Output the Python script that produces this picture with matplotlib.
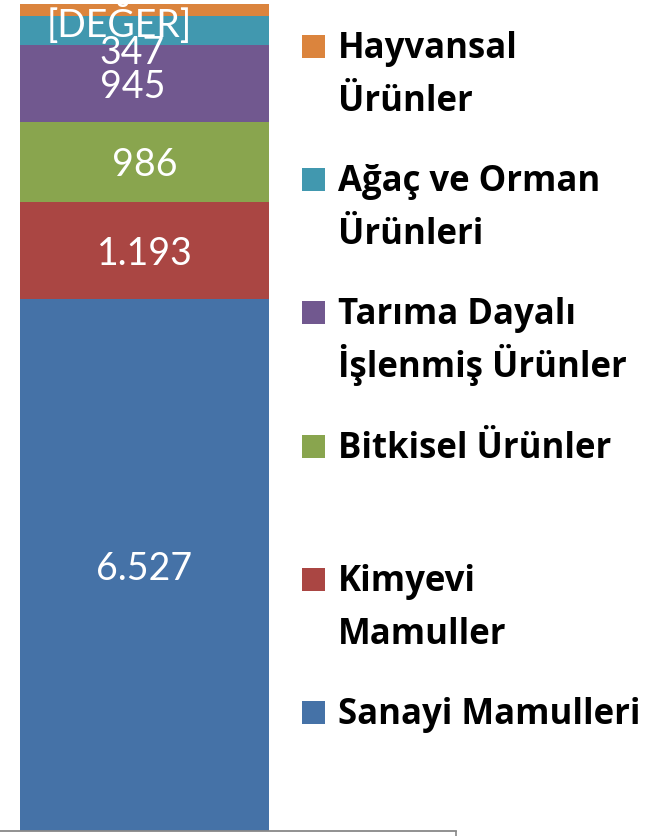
import matplotlib.pyplot as plt
from matplotlib.patches import Rectangle

# Veri (alttan üste yığılma sırası)
categories = ['Sanayi Mamulleri', 'Kimyevi\nMamuller', 'Bitkisel Ürünler',
              'Tarıma Dayalı\nİşlenmiş Ürünler', 'Ağaç ve Orman\nÜrünleri',
              'Hayvansal\nÜrünler']
values = [6527, 1193, 986, 945, 347, 150]
labels = ['6.527', '1.193', '986', '945', '347', '[DEĞER]']
colors = ['#4572A7', '#AA4643', '#89A54E', '#71588F', '#4198AF', '#DB843D']

W, H = 664, 836
plt.rcParams['font.family'] = ['Lato', 'DejaVu Sans']

fig = plt.figure(figsize=(W / 100, H / 100), dpi=100)
ax = fig.add_axes([0, 5 / H, 456 / W, (831 - 4) / H])

bar_w = 1.0
bottom = 0
# etiketlerin üst üste binmemesi için kaydırma (piksel)
label_shift = [(0, -4), (0, -4), (0, -3), (-12, -4), (-12, -23), (-25, -13)]
for val, lab, col, shift in zip(values, labels, colors, label_shift):
    ax.bar(0, val, width=bar_w, bottom=bottom, color=col, linewidth=0)
    ax.annotate(lab, (0, bottom + val / 2), xytext=shift,
                textcoords='offset pixels', ha='center', va='center',
                color='white', fontsize=27)
    bottom += val

ax.set_ylim(0, bottom)
ax.set_xlim(-144.5 / 249, (456 - 144.5) / 249)
ax.set_yticks([])
ax.set_xticks([ax.get_xlim()[1]])
ax.set_xticklabels([''])
ax.tick_params(axis='x', direction='out', length=4, color='#888888', width=1.2)
for s in ['top', 'left', 'right']:
    ax.spines[s].set_visible(False)
ax.spines['bottom'].set_color('#888888')
ax.spines['bottom'].set_linewidth(1.3)
ax.patch.set_visible(False)

# Lejant (üstten alta)
sq = 23
pitch = 133.2
for i, (cat, col) in enumerate(zip(categories[::-1], colors[::-1])):
    top = 35 + i * pitch
    fig.patches.append(Rectangle((302 / W, (H - top - sq) / H), sq / W, sq / H,
                                 transform=fig.transFigure, color=col, lw=0))
    for j, line in enumerate(cat.split('\n')):
        fig.text(338 / W, (H - (top + sq) - j * 53) / H, line,
                 ha='left', va='baseline', fontsize=25, fontweight='bold',
                 family=['Open Sans', 'DejaVu Sans'], color='black')

fig.savefig('out.png', dpi=100)
